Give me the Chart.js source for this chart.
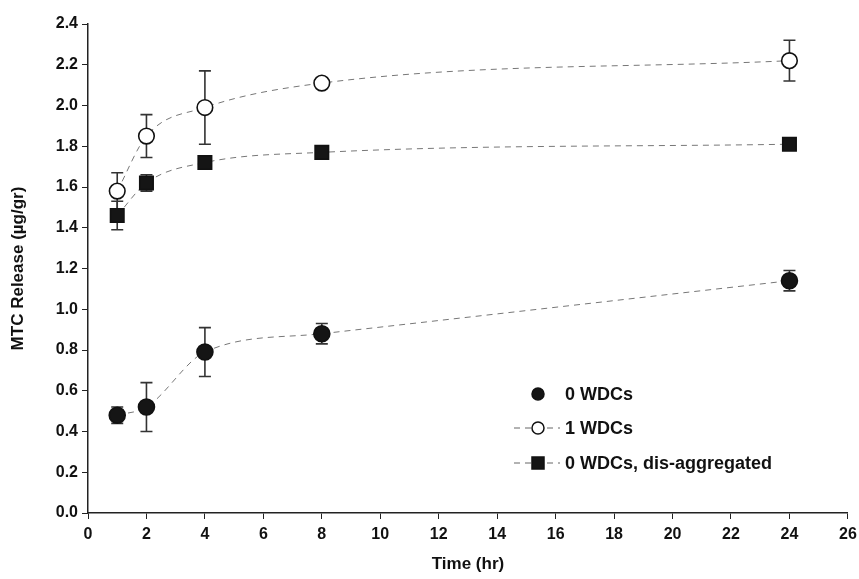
<!DOCTYPE html>
<html>
<head>
<meta charset="utf-8">
<script src="https://cdn.jsdelivr.net/npm/chart.js@4.4.1/dist/chart.umd.min.js"></script>
<style>
  body { margin: 0; background: #fff; }
  canvas { display: block; }
</style>
</head>
<body>
<canvas id="releaseChart" width="859" height="579"></canvas>
<script>
// data
const hours = [1, 2, 4, 8, 24];
const wdc0 = [0.48, 0.52, 0.79, 0.88, 1.14];
const wdc0Err = [0.04, 0.12, 0.12, 0.05, 0.05];
const wdc1 = [1.58, 1.85, 1.99, 2.11, 2.22];
const wdc1Err = [0.09, 0.105, 0.18, 0.02, 0.10];
const wdc0Dis = [1.46, 1.62, 1.72, 1.77, 1.81];
const wdc0DisErr = [0.07, 0.04, 0.02, 0.01, 0.01];
const seriesNames = ["0 WDCs", "1 WDCs", "0 WDCs, dis-aggregated"];

const tickFont = { family: "'Liberation Sans Narrow', 'Liberation Sans', Arial, sans-serif", size: 16, weight: "bold" };
const titleFont = { family: "'Liberation Sans Narrow', 'Liberation Sans', Arial, sans-serif", size: 17, weight: "bold" };

function pts(ys) {
  return hours.map((h, i) => ({ x: h, y: ys[i] }));
}

// error bars, drawn under the markers
const errorBars = {
  id: "errorBars",
  beforeDatasetsDraw(chart) {
    const ctx = chart.ctx;
    const xs = chart.scales.x, ys = chart.scales.y;
    ctx.save();
    ctx.strokeStyle = "#333";
    ctx.lineWidth = 1.6;
    chart.data.datasets.forEach(ds => {
      ds.data.forEach((p, i) => {
        const e = ds.errors[i];
        const px = xs.getPixelForValue(p.x);
        const top = ys.getPixelForValue(p.y + e);
        const bot = ys.getPixelForValue(p.y - e);
        ctx.beginPath();
        ctx.moveTo(px, top); ctx.lineTo(px, bot);
        ctx.moveTo(px - 6, top); ctx.lineTo(px + 6, top);
        ctx.moveTo(px - 6, bot); ctx.lineTo(px + 6, bot);
        ctx.stroke();
      });
    });
    ctx.restore();
  }
};

// legend inside the plot, lower right
const innerLegend = {
  id: "innerLegend",
  afterDraw(chart) {
    const ctx = chart.ctx;
    const a = chart.chartArea;
    const mx = a.left + 450, tx = a.left + 477;
    const rows = [a.top + 370, a.top + 404, a.top + 439];
    ctx.save();
    ctx.font = "bold 18px 'Liberation Sans', Arial, sans-serif";
    ctx.textBaseline = "middle";
    chart.data.datasets.forEach((ds, i) => {
      const y = rows[i];
      if (i > 0) {
        ctx.strokeStyle = "#666";
        ctx.lineWidth = 1;
        ctx.setLineDash([6, 5]);
        ctx.beginPath();
        ctx.moveTo(mx - 24, y); ctx.lineTo(mx + 22, y);
        ctx.stroke();
        ctx.setLineDash([]);
      }
      ctx.fillStyle = ds.pointBackgroundColor;
      ctx.strokeStyle = ds.pointBorderColor;
      ctx.lineWidth = 1.5;
      ctx.beginPath();
      if (ds.pointStyle === "rect") {
        ctx.rect(mx - 6, y - 6, 12, 12);
      } else {
        ctx.arc(mx, y, 6, 0, Math.PI * 2);
      }
      ctx.fill(); ctx.stroke();
      ctx.fillStyle = "#111";
      ctx.fillText(seriesNames[i], tx, y + 1);
    });
    ctx.restore();
  }
};

const lineStyle = {
  showLine: true,
  borderColor: "#777",
  borderWidth: 1,
  borderDash: [6, 5],
  cubicInterpolationMode: "monotone",
  pointBorderColor: "#111",
  pointBorderWidth: 1.6
};

new Chart(document.getElementById("releaseChart"), {
  type: "scatter",
  data: {
    datasets: [
      Object.assign({}, lineStyle, {
        label: seriesNames[0], data: pts(wdc0), errors: wdc0Err,
        pointStyle: "circle", pointRadius: 8, pointBackgroundColor: "#151515"
      }),
      Object.assign({}, lineStyle, {
        label: seriesNames[1], data: pts(wdc1), errors: wdc1Err,
        pointStyle: "circle", pointRadius: 7.8, pointBackgroundColor: "#fff"
      }),
      Object.assign({}, lineStyle, {
        label: seriesNames[2], data: pts(wdc0Dis), errors: wdc0DisErr,
        pointStyle: "rect", pointRadius: 9.5, pointBackgroundColor: "#151515"
      })
    ]
  },
  options: {
    responsive: false,
    animation: false,
    layout: { padding: { top: 24, right: 9, left: 4, bottom: 0 } },
    plugins: {
      legend: { display: false },
      tooltip: { enabled: false }
    },
    scales: {
      x: {
        type: "linear",
        min: 0, max: 26,
        ticks: { stepSize: 2, color: "#111", font: tickFont, padding: 6 },
        grid: { drawOnChartArea: false, drawTicks: true, tickLength: 6, color: "#222" },
        border: { display: true, color: "#222", width: 1.5 },
        title: { display: true, text: "Time (hr)", color: "#111", font: titleFont, padding: { top: 2 } },
        afterFit(s) { s.height = 66; s.paddingRight = 0; s.paddingLeft = 0; }
      },
      y: {
        min: 0, max: 2.4,
        ticks: { stepSize: 0.2, color: "#111", font: tickFont, padding: 4,
          callback: v => Number(v).toFixed(1) },
        grid: { drawOnChartArea: false, drawTicks: true, tickLength: 6, color: "#222" },
        border: { display: true, color: "#222", width: 1.5 },
        title: { display: true, text: "MTC Release (µg/gr)", color: "#111", font: titleFont, padding: { bottom: 4 } },
        afterFit(s) { s.width = 84; s.paddingTop = 0; s.paddingBottom = 0; }
      }
    }
  },
  plugins: [errorBars, innerLegend]
});
</script>
</body>
</html>
